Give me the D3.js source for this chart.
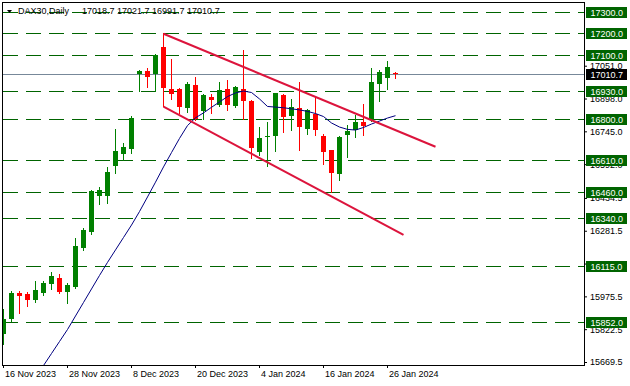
<!DOCTYPE html>
<html>
<head>
<meta charset="utf-8">
<script src="https://cdn.jsdelivr.net/npm/d3@7"></script>
<style>
  body { margin: 0; background: #fff; }
  svg { display: block; font-family: "Liberation Sans", Arial, sans-serif; font-size: 9px; }
</style>
</head>
<body>
<div class="svg-container"></div>
<script>
var dates = ["16 Nov 2023","17 Nov 2023","20 Nov 2023","21 Nov 2023","22 Nov 2023","23 Nov 2023","24 Nov 2023","27 Nov 2023",
    "28 Nov 2023","29 Nov 2023","30 Nov 2023","1 Dec 2023","4 Dec 2023","5 Dec 2023","6 Dec 2023","7 Dec 2023",
    "8 Dec 2023","11 Dec 2023","12 Dec 2023","13 Dec 2023","14 Dec 2023","15 Dec 2023","18 Dec 2023","19 Dec 2023",
    "20 Dec 2023","21 Dec 2023","22 Dec 2023","27 Dec 2023","28 Dec 2023","29 Dec 2023","2 Jan 2024","3 Jan 2024",
    "4 Jan 2024","5 Jan 2024","8 Jan 2024","9 Jan 2024","10 Jan 2024","11 Jan 2024","12 Jan 2024","15 Jan 2024",
    "16 Jan 2024","17 Jan 2024","18 Jan 2024","19 Jan 2024","22 Jan 2024","23 Jan 2024","24 Jan 2024","25 Jan 2024",
    "26 Jan 2024","29 Jan 2024"];

var open  = [15799,15872,15991,15987,15960,15993,16035,16061,15997,16021,16200,16277,16445,16445,16585,16641,
             16661,17012,17026,17014,17138,16942,16942,16852,16961,16840,16907,16868,16942,16863,16942,16887,
             16649,16722,16725,16915,16817,16854,16756,16826,16723,16658,16545,16728,16751,16789,16796,16966,
             16996,17018.7];
var high  = [15917,16002,16002,15997,16047,16047,16089,16080,16038,16246,16296,16472,16486,16579,16756,16691,
             16817,17033,17042,17104,17202,17084,16949,16977,16997,16917,16921,16977,16984,16958,17124,16890,
             16767,16789,16926,16917,16896,16977,16847,16911,16731,16660,16721,16775,16821,16873,17040,17029,
             17073,17021.7];
var low   = [15754,15862,15900,15932,15951,15982,16011,15993,15946,16015,16190,16265,16408,16412,16552,16610,
             16646,16933,16953,16935,16862,16897,16829,16837,16798,16803,16832,16863,16846,16859,16803,16622,
             16635,16585,16655,16743,16753,16659,16733,16729,16595,16462,16520,16627,16719,16728,16793,16887,
             16942,16991.7];
var close = [15869,15991,15979,15960,16005,16038,16071,15997,16029,16211,16285,16467,16472,16556,16653,16672,
             16806,17028,17000,17101,16949,16918,16860,16966,16801,16914,16893,16938,16868,16953,16888,16666,
             16714,16725,16924,16813,16859,16767,16845,16753,16650,16549,16719,16747,16789,16770,16975,17022,
             17045,17010.7];

// moving average (null = not shown)
var ma = [null,null,null,null,15597,15653,15709,15765,15821,15884,15947,16010,16073,16134,16192,16250,
          16308,16371,16439,16508,16579,16646,16712,16772,16808,16831,16857,16882,16907,16924,16933,16926,
          16896,16861,16858,16855,16850,16845,16838,16828,16814,16784,16765,16754,16751,16763,16779,16793,
          16807,16818];

var levels = [17300, 17200, 17100, 16930, 16800, 16610, 16460, 16340, 16115, 15852];
var axisTicks = [17051.0, 16898.0, 16745.0, 16592.0, 16434.5, 16281.5, 16128.5, 15975.5, 15822.5, 15669.5];
var xTicks = [0, 8, 16, 24, 32, 40, 48];
var lastPrice = 17010.7;
var title = "DAX30,Daily";
var titleValues = "17018.7 17021.7 16991.7 17010.7";

// trend lines: [bar index, price]
var upperLine = [[20, 17200], [54, 16673]];
var lowerLine = [[20, 16860], [50, 16262]];

var width = 630, height = 386;
var frame = {left: 2.5, top: 2.5, right: 584.5, bottom: 365.5};

var svg = d3.select(".svg-container")
    .append("svg")
    .attr("width", width)
    .attr("height", height);

var x = d3.scaleLinear().domain([0, 72]).range([3.5, 579.5]);
var y = d3.scaleLinear().domain([15669.5, 17300]).range([362, 12.3]);

var crisp = v => Math.floor(v) + 0.5;

svg.append("defs").append("clipPath")
    .attr("id", "plot")
    .append("rect")
    .attr("x", 3).attr("y", 3)
    .attr("width", frame.right - 3.5)
    .attr("height", frame.bottom - 3.5);

var g = svg.append("g").attr("clip-path", "url(#plot)");

// horizontal levels
g.selectAll(".level")
    .data(levels)
    .enter().append("line")
    .attr("class", "level")
    .attr("x1", 3).attr("x2", frame.right)
    .attr("y1", d => crisp(y(d))).attr("y2", d => crisp(y(d)))
    .attr("stroke", "#006400")
    .attr("stroke-width", 1)
    .attr("stroke-dasharray", "15,8");

// last price line
g.append("line")
    .attr("x1", 3).attr("x2", frame.right)
    .attr("y1", crisp(y(lastPrice))).attr("y2", crisp(y(lastPrice)))
    .attr("stroke", "#778899");

var bars = d3.range(dates.length).map(i => ({
    i: i, o: open[i], h: high[i], l: low[i], c: close[i], up: close[i] >= open[i]
}));

g.selectAll(".wick")
    .data(bars)
    .enter().append("line")
    .attr("class", "wick")
    .attr("x1", d => x(d.i)).attr("x2", d => x(d.i))
    .attr("y1", d => Math.round(y(d.h))).attr("y2", d => Math.round(y(d.l)) + 1)
    .attr("stroke", d => d.up ? "#008000" : "#ff0000")
    .attr("stroke-width", 1);

g.selectAll(".body")
    .data(bars)
    .enter().append("rect")
    .attr("class", "body")
    .attr("x", d => x(d.i) - 2.5)
    .attr("width", 5)
    .attr("y", d => Math.round(y(Math.max(d.o, d.c))))
    .attr("height", d => Math.max(1, Math.round(y(Math.min(d.o, d.c))) - Math.round(y(Math.max(d.o, d.c)))))
    .attr("fill", d => d.up ? "#008000" : "#ff0000");

// moving average
var maLine = d3.line()
    .defined(d => d != null)
    .x((d, i) => x(i))
    .y(d => y(d));

g.append("path")
    .datum(ma)
    .attr("d", maLine)
    .attr("fill", "none")
    .attr("stroke", "#000080")
    .attr("stroke-width", 1);

// channel lines
var trend = d3.line().x(d => x(d[0])).y(d => y(d[1]));

g.selectAll(".trend")
    .data([upperLine, lowerLine])
    .enter().append("path")
    .attr("class", "trend")
    .attr("d", trend)
    .attr("fill", "none")
    .attr("stroke", "#dc143c")
    .attr("stroke-width", 2);

// frame
svg.append("rect")
    .attr("x", frame.left).attr("y", frame.top)
    .attr("width", frame.right - frame.left)
    .attr("height", frame.bottom - frame.top)
    .attr("fill", "none")
    .attr("stroke", "#000");

// right price axis
var yAxis = d3.axisRight(y)
    .tickValues(axisTicks)
    .tickSize(3)
    .tickPadding(3)
    .tickFormat(d3.format(".1f"));

var ya = svg.append("g")
    .attr("transform", `translate(${frame.right - 0.5},0)`)
    .call(yAxis);
ya.select(".domain").remove();
ya.selectAll("text").attr("fill", "#000").style("font-size", "9px").style("font-family", "Liberation Sans, Arial, sans-serif");

// level labels
var lab = svg.selectAll(".lab")
    .data(levels)
    .enter().append("g")
    .attr("class", "lab")
    .attr("transform", d => `translate(0,${crisp(y(d))})`);
lab.append("rect")
    .attr("x", 586).attr("y", -5.5)
    .attr("width", 41).attr("height", 11)
    .attr("fill", "#006400");
lab.append("text")
    .attr("x", 590.5).attr("dy", "0.35em")
    .attr("fill", "#fff")
    .text(d => d3.format(".1f")(d));

var cur = svg.append("g").attr("transform", `translate(0,${crisp(y(lastPrice))})`);
cur.append("rect")
    .attr("x", 586).attr("y", -5.5)
    .attr("width", 41).attr("height", 11)
    .attr("fill", "#000");
cur.append("text")
    .attr("x", 590.5).attr("dy", "0.35em")
    .attr("fill", "#fff")
    .text(d3.format(".1f")(lastPrice));

// bottom time axis
var xAxis = d3.axisBottom(x)
    .tickValues(xTicks)
    .tickSize(3)
    .tickPadding(3)
    .tickFormat(i => dates[i]);

var xa = svg.append("g")
    .attr("transform", `translate(-0.5,${frame.bottom - 0.5})`)
    .call(xAxis);
xa.select(".domain").remove();
xa.selectAll("text")
    .attr("text-anchor", "start")
    .attr("x", 1.5)
    .attr("fill", "#000")
    .style("font-size", "9px")
    .style("font-family", "Liberation Sans, Arial, sans-serif");

// title
svg.append("path")
    .attr("d", "M7,10L12,10L9.5,13Z")
    .attr("fill", "#000");
svg.append("text")
    .attr("x", 18).attr("y", 14)
    .attr("fill", "#000")
    .text(title);
svg.append("text")
    .attr("x", 82).attr("y", 14)
    .attr("fill", "#000")
    .text(titleValues);
</script>
</body>
</html>
